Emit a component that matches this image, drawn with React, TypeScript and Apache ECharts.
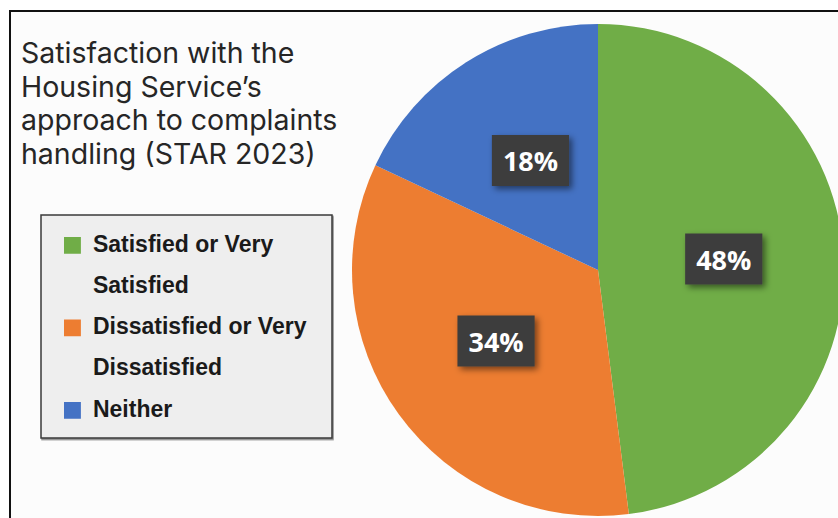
import React, { useEffect, useRef } from "react";
import * as echarts from "echarts";

const titleLines = [
  "Satisfaction with the",
  "Housing Service’s",
  "approach to complaints",
  "handling (STAR 2023)",
];
const categories = [
  "Satisfied or Very Satisfied",
  "Dissatisfied or Very Dissatisfied",
  "Neither",
];
const legendLabels = [
  "Satisfied or Very\nSatisfied",
  "Dissatisfied or Very\nDissatisfied",
  "Neither\n",
];
const values = [48, 34, 18];
const colors = ["#70ad47", "#ed7d31", "#4472c4"];

export default function App() {
  const ref = useRef<HTMLDivElement>(null);
  useEffect(() => {
    if (!ref.current) return;
    const chart = echarts.init(ref.current, null, { renderer: "svg" });
    const icon = "path://M0,0h24M0,14h17v17h-17zM0,83h24";
    chart.setOption({
      animation: false,
      backgroundColor: "#ffffff",
      title: {
        text: titleLines.join("\n"),
        left: 21,
        top: 36,
        padding: 0,
        textStyle: {
          fontFamily: "Inter",
          fontSize: 28.5,
          fontWeight: "normal",
          color: "#262626",
          lineHeight: 33.5,
        },
      },
      graphic: [
        {
          type: "rect",
          z: -10,
          silent: true,
          shape: { x: 10, y: 11, width: 900, height: 600 },
          style: { fill: "#fcfcfc", stroke: "#111111", lineWidth: 2 },
        },
        {
          type: "rect",
          z: 0,
          silent: true,
          shape: { x: 41, y: 215, width: 291, height: 223 },
          style: {
            fill: "#eeeeee",
            stroke: "#3a3a3a",
            lineWidth: 1.5,
            shadowColor: "rgba(0,0,0,0.45)",
            shadowOffsetX: 1,
            shadowOffsetY: 1.5,
            shadowBlur: 1,
          },
        },
      ],
      legend: {
        orient: "vertical",
        left: 64,
        top: 223,
        padding: 0,
        itemGap: 0,
        itemWidth: 24,
        itemHeight: 82.5,
        icon,
        itemStyle: { borderWidth: 0 },
        selectedMode: false,
        data: categories.map((name) => ({ name, icon })),
        formatter: (name: string) => legendLabels[categories.indexOf(name)],
        textStyle: {
          fontFamily: "Liberation Sans",
          fontWeight: "bold",
          fontSize: 23,
          lineHeight: 41.25,
          color: "#1a1a1a",
        },
      },
      series: [
        {
          type: "pie",
          center: [598, 270],
          radius: 246,
          startAngle: 90,
          clockwise: true,
          avoidLabelOverlap: false,
          itemStyle: { borderWidth: 0 },
          label: {
            show: true,
            position: "inside",
            offset: [0, -3],
            formatter: (p: any) => `${p.value}%`,
            fontFamily: "Open Sans",
            fontWeight: "bold",
            fontSize: 27,
            lineHeight: 27,
            color: "#ffffff",
            backgroundColor: "#3d3d3d",
            padding: [12, 11, 12, 11],
            shadowColor: "rgba(0,0,0,0.5)",
            shadowBlur: 6,
            shadowOffsetX: 3,
            shadowOffsetY: 3,
          },
          labelLine: { show: false },
          emphasis: { disabled: true },
          data: categories.map((name, i) => ({
            name,
            value: values[i],
            itemStyle: { color: colors[i] },
          })),
        },
      ],
    });
    return () => chart.dispose();
  }, []);
  return (
    <div
      ref={ref}
      style={{ position: "fixed", left: 0, top: 0, width: 838, height: 518 }}
    />
  );
}
